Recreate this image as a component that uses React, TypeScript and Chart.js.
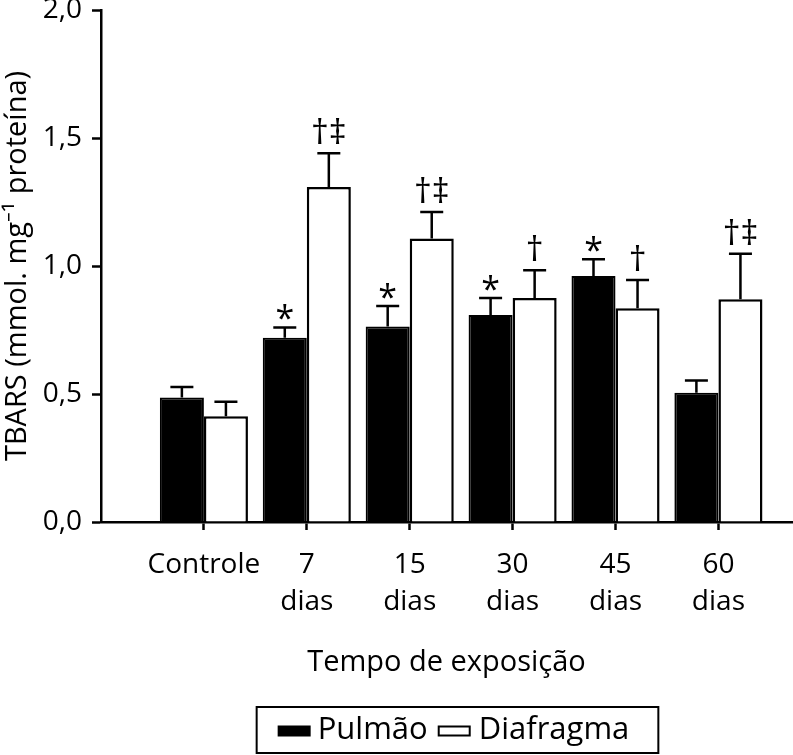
import { useEffect, useRef } from 'react';
import { Chart, registerables } from 'chart.js';

Chart.register(...registerables);

const FONT = '"Open Sans", sans-serif';

const categories: string[][] = [['Controle'], ['7', 'dias'], ['15', 'dias'], ['30', 'dias'], ['45', 'dias'], ['60', 'dias']];
const seriesNames = ['Pulmão', 'Diafragma'];
const pulmao = [0.486, 0.72, 0.764, 0.809, 0.961, 0.505];
const pulmaoErr = [0.041, 0.04, 0.08, 0.066, 0.065, 0.048];
const diafragma = [0.413, 1.309, 1.107, 0.875, 0.835, 0.87];
const diafragmaErr = [0.057, 0.131, 0.104, 0.108, 0.11, 0.178];
const pulmaoMarks = ['', '*', '*', '*', '*', ''];
const diafragmaMarks = ['', '†‡', '†‡', '†', '†', '†‡'];
const yTicks = [0, 0.5, 1, 1.5, 2];
const xTitle = 'Tempo de exposição';
const yTitle = 'TBARS (mmol. mg⁻¹ proteína)';

const errorBarPlugin = {
  id: 'errorBars',
  afterDatasetsDraw(chart: any) {
    const ctx = chart.ctx;
    const yScale = chart.scales.y;
    chart.data.datasets.forEach((ds: any, di: number) => {
      const meta = chart.getDatasetMeta(di);
      meta.data.forEach((bar: any, i: number) => {
        const v = ds.data[i].y;
        const top = yScale.getPixelForValue(v + ds.errors[i]);
        ctx.save();
        ctx.strokeStyle = '#000';
        ctx.lineWidth = 2.5;
        ctx.beginPath();
        ctx.moveTo(bar.x, bar.y);
        ctx.lineTo(bar.x, top);
        ctx.moveTo(bar.x - 11.5, top);
        ctx.lineTo(bar.x + 11.5, top);
        ctx.stroke();
        const mark = ds.marks[i];
        if (mark) {
          ctx.fillStyle = '#000';
          const isStar = !mark.includes('†');
          ctx.font = (isStar ? '34px ' : '35px ') + FONT;
          ctx.textAlign = 'center';
          ctx.textBaseline = 'alphabetic';
          const off = isStar ? -3 : 9;
          ctx.fillText(mark, bar.x, top - off);
        }
        ctx.restore();
      });
    });
  },
};

const legendPlugin = {
  id: 'boxedLegend',
  afterDraw(chart: any) {
    const ctx = chart.ctx;
    const area = chart.chartArea;
    ctx.save();
    ctx.font = '31px ' + FONT;
    const w1 = ctx.measureText(seriesNames[0]).width;
    const w2 = ctx.measureText(seriesNames[1]).width;
    const boxW = 33;
    const boxH = 11;
    const inner = boxW + 7 + w1 + 10 + boxW + 8 + w2;
    const frameW = inner + 21 + 29;
    const cx = (area.left + area.right) / 2 + 11;
    const left = cx - frameW / 2;
    const top = 707;
    const h = 46;
    ctx.strokeStyle = '#000';
    ctx.lineWidth = 2;
    ctx.strokeRect(left, top, frameW, h);
    const cy = top + h / 2;
    let x = left + 21;
    ctx.fillStyle = '#000';
    ctx.fillRect(x, cy - boxH / 2 + 1, boxW, boxH);
    x += boxW + 7;
    ctx.textBaseline = 'middle';
    ctx.textAlign = 'left';
    ctx.fillText(seriesNames[0], x, cy);
    x += w1 + 10;
    ctx.lineWidth = 2;
    ctx.fillStyle = '#fff';
    ctx.fillRect(x, cy - boxH / 2 + 1, boxW, boxH);
    ctx.strokeRect(x + 1, cy - boxH / 2 + 2, boxW - 2, boxH - 2);
    x += boxW + 8;
    ctx.fillStyle = '#000';
    ctx.fillText(seriesNames[1], x, cy);
    ctx.restore();
  },
};

export default function App() {
  const ref = useRef<HTMLCanvasElement | null>(null);
  useEffect(() => {
    if (!ref.current) return;
    const chart = new Chart(ref.current, {
      type: 'bar',
      data: {
        datasets: [
          {
            label: seriesNames[0],
            data: pulmao.map((v, i) => ({ x: i + 1, y: v })),
            backgroundColor: '#000',
            borderColor: '#000',
            borderWidth: 2,
            errors: pulmaoErr,
            marks: pulmaoMarks,
          } as any,
          {
            label: seriesNames[1],
            data: diafragma.map((v, i) => ({ x: i + 1, y: v })),
            backgroundColor: '#fff',
            borderColor: '#000',
            borderWidth: 2.5,
            errors: diafragmaErr,
            marks: diafragmaMarks,
          } as any,
        ],
      },
      options: {
        responsive: false,
        animation: false,
        devicePixelRatio: 1,
        layout: { padding: { top: 10, left: 0, right: 1, bottom: 0 } },
        datasets: { bar: { categoryPercentage: 0.856, barPercentage: 1 } },
        plugins: { legend: { display: false }, tooltip: { enabled: false } },
        scales: {
          x: {
            type: 'linear',
            min: 0,
            max: 6.715,
            offset: false,
            afterBuildTicks: (s: any) => {
              s.ticks = categories.map((_, i) => ({ value: i + 1 }));
            },
            afterFit: (s: any) => {
              s.height = 233;
              s.paddingLeft = 0;
              s.paddingRight = 0;
            },
            grid: { display: true, offset: false, drawOnChartArea: false, drawTicks: true, tickLength: 8, tickWidth: 2.5, tickColor: '#000' },
            border: { display: true, color: '#000', width: 2.5 },
            ticks: {
              callback: (_v: any, i: number) => categories[i],
              padding: 16,
              autoSkip: false,
              maxRotation: 0,
              color: '#000',
              font: { family: FONT, size: 28, lineHeight: 1.33 },
            },
            title: {
              display: true,
              text: xTitle,
              color: '#000',
              font: { family: FONT, size: 29, lineHeight: 1.2 },
              padding: { top: 0, bottom: 75 },
            },
          } as any,
          y: {
            min: 0,
            max: 2,
            afterBuildTicks: (s: any) => {
              s.ticks = yTicks.map((v) => ({ value: v }));
            },
            afterFit: (s: any) => {
              s.width = 101;
              s.paddingTop = 0;
              s.paddingBottom = 0;
            },
            grid: { display: true, drawOnChartArea: false, drawTicks: true, tickLength: 9, tickWidth: 2.5, tickColor: '#000' },
            border: { display: true, color: '#000', width: 2.5 },
            ticks: {
              callback: (v: any) => Number(v).toFixed(1).replace('.', ','),
              padding: 10,
              color: '#000',
              font: { family: FONT, size: 28, lineHeight: 1.0 },
            },
            title: {
              display: true,
              text: yTitle,
              color: '#000',
              font: { family: FONT, size: 29, lineHeight: 1.2 },
              padding: { top: 0, bottom: 0 },
            },
          } as any,
        },
      },
      plugins: [errorBarPlugin, legendPlugin],
    });
    return () => chart.destroy();
  }, []);
  return (
    <div style={{ position: 'absolute', left: 0, top: 0, width: 793, height: 755, background: '#fff' }}>
      <canvas ref={ref} width={793} height={755} />
    </div>
  );
}
